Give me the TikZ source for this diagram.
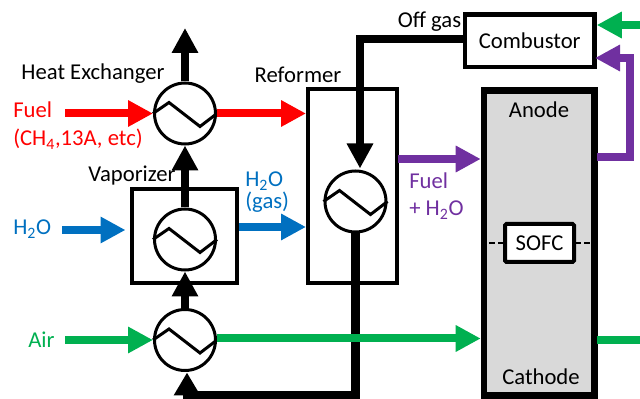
\documentclass[tikz,border=0pt]{standalone}
\usepackage{fontspec}
\setmainfont{Carlito}
\usetikzlibrary{arrows.meta,calc}
\definecolor{fuelred}{HTML}{FF0000}
\definecolor{wblue}{HTML}{0070C0}
\definecolor{agreen}{HTML}{00B050}
\definecolor{mixpurple}{HTML}{7030A0}
\definecolor{stackgray}{HTML}{D9D9D9}
\tikzset{
  hx/.style={circle,draw=black,fill=white,line width=2.25pt,minimum size=45.75pt,inner sep=0pt},
  zig/.style={line width=2.25pt,line join=miter},
  unitbox/.style={rectangle,draw=black,line width=3pt,inner sep=0pt},
  lab/.style={inner sep=0pt,font=\fontsize{17}{20}\selectfont},
  labl/.style={lab,anchor=west,align=left},
  flow/.style={line width=6pt,-{Triangle[length=18.75pt,width=18.75pt]}},
  pipe/.style={line width=6pt,line join=miter},
}
\begin{document}
\begin{tikzpicture}[x=0.75pt,y=-0.75pt]
\useasboundingbox (0,0) rectangle (640,399);
% units
\node[unitbox,minimum width=79.125pt,minimum height=70.5pt] (vap) at (184.25,236) {};
\node[unitbox,minimum width=66.75pt,minimum height=145.5pt] (ref) at (352.5,186) {};
\node[unitbox,line width=3.4pt,minimum width=97.125pt,minimum height=39.375pt,lab] (comb) at (529.75,40.75) {Combustor};
\node[unitbox,line width=4.9pt,fill=stackgray,minimum width=82.875pt,minimum height=229.125pt] (stack) at (539.25,243) {};
\coordinate (dl) at (487,243);
\coordinate (dr) at (592,243);
\node[unitbox,rounded corners=1pt,fill=white,minimum width=51.75pt,minimum height=28.5pt,lab] (sofc) at (539.5,243) {SOFC};
\draw[line width=1.5pt,dash pattern=on 4pt off 2.2pt] (sofc.west) -- (dl);
\draw[line width=1.5pt,dash pattern=on 4pt off 2.2pt] (sofc.east) -- (dr);
% coordinates
\coordinate (fuelin) at (65,113.5);
\coordinate (exh) at (185,28);
\coordinate (win) at (62,230);
\coordinate (vout) at (239,227);
\coordinate (airin) at (65,340);
\coordinate (airout) at (217,338.5);
\coordinate (mixout) at (398,159);
\coordinate (anout) at (597,157);
\coordinate (loopc) at (630,157);
\coordinate (loopt) at (630,58);
\coordinate (combin) at (595,58);
\coordinate (greenin) at (640,25);
\coordinate (greenout) at (640,340);
\coordinate (offs) at (465,39);
\coordinate (offc) at (360,39);
\coordinate (offe) at (360,168.5);
\coordinate (botc) at (355.5,395.7);
\coordinate (bote) at (183,395.7);
\coordinate (botb) at (187,396);
\coordinate (bott) at (187,372.5);
% heat exchangers
\node[hx] (hx1) at (185,113.5) {};
\node[hx] (hx2) at (185,239.5) {};
\node[hx] (hx3) at (185,340) {};
\node[hx] (hx4) at (355.5,201.5) {};
\foreach \h in {hx1,hx2,hx3,hx4}{
  \draw[zig] (\h.west) -- ++(16,-11) -- ++(31,24) -- (\h.east);
}
% black flows
\draw[flow,black] (hx1.north) -- (exh);
\draw[flow,black] (hx2.north) -- (hx1.south);
\draw[flow,black] (hx3.north) -- (hx2.south);
\draw[pipe,black] (offs) -- (offc) -- (offe |- 0,144);
\draw[flow,black] (offc) -- (offe);
\draw[pipe,black,line width=6.6pt] (hx4.south) -- (botc) -- (bote);
\draw[black,line width=6pt,-{Triangle[length=17.2pt,width=18.75pt]}] (botb) -- (bott);
% coloured flows
\draw[flow,fuelred] (fuelin) -- (hx1.west);
\draw[flow,fuelred] (hx1.east) -- (hx1.east -| ref.west);
\draw[flow,wblue,shorten >=3pt] (win) -- (win -| vap.west);
\draw[flow,wblue] (vout) -- (vout -| ref.west);
\draw[flow,agreen] (airin) -- (hx3.west);
\draw[flow,agreen] (airout) -- (airout -| stack.west);
\draw[pipe,agreen] (anout |- greenout) -- (greenout);
\draw[flow,agreen] (greenin) -- (greenin -| comb.east);
\draw[flow,mixpurple] (mixout) -- (mixout -| stack.west);
\draw[flow,mixpurple] (anout) -- (loopc) -- (loopt) -- (combin);
% labels
\node[lab] (lhx) at (93,74) {Heat Exchanger};
\node[labl,text=fuelred] (lfuel) at (13,110) {Fuel};
\node[labl,text=fuelred] (lfuel2) at (13,139) {(CH\textsubscript{4},13A, etc)};
\node[lab] (lref) at (298,75) {Reformer};
\node[lab] (lvap) at (132,176) {Vaporizer};
\node[labl,text=wblue,font=\fontsize{17}{16.5}\selectfont] (lw1) at (245,192.5) {H\textsubscript{2}O\\(gas)};
\node[lab] (loff) at (429.5,22) {Off gas};
\node[lab] (lan) at (539,110) {Anode};
\node[lab] (lca) at (541,377) {Cathode};
\node[labl,text=mixpurple] (lm1) at (409,181) {Fuel};
\node[labl,text=mixpurple] (lm2) at (409,210) {+ H\textsubscript{2}O};
\node[labl,text=wblue] (lw3) at (13,229) {H\textsubscript{2}O};
\node[labl,text=agreen] (lair) at (28,340) {Air};
\end{tikzpicture}
\end{document}
